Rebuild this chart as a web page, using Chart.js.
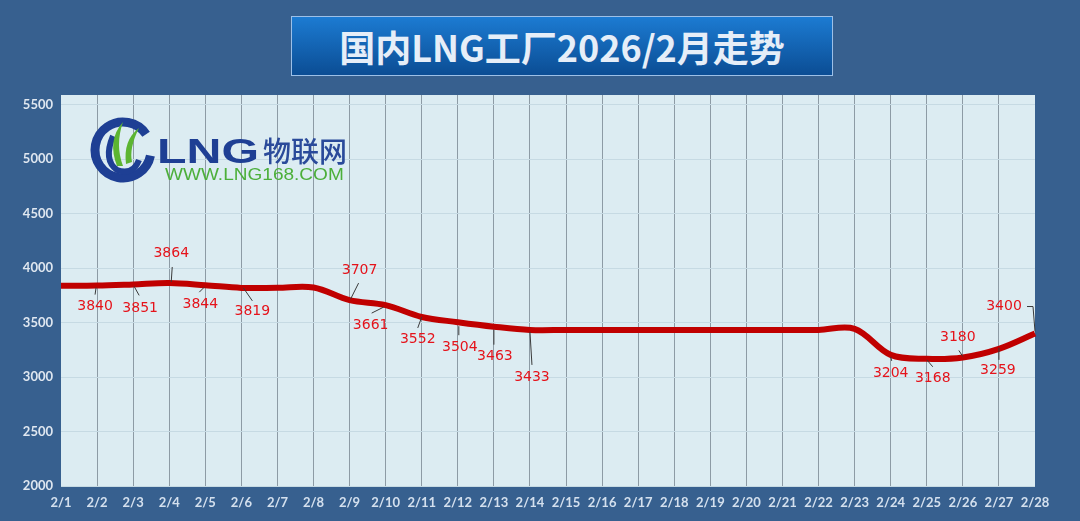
<!DOCTYPE html>
<html>
<head>
<meta charset="utf-8">
<script src="https://cdn.jsdelivr.net/npm/chart.js@4"></script>
<style>
html, body { margin: 0; padding: 0; background: #37608f; }
#wrap { position: relative; width: 1080px; height: 521px; }
canvas { position: absolute; left: 0; top: 0; }
#title {
  position: absolute; left: 291px; top: 16px; width: 540px; height: 58px;
  border: 1px solid #9cc0e8;
  background: linear-gradient(#1c7bd2, #0b4d94);
  color: #e6eef8; font: bold 36px "Noto Sans CJK SC", sans-serif;
  text-align: center; line-height: 58px;
}
</style>
</head>
<body>
<div id="wrap">
  <canvas id="lngChart" width="1080" height="521"></canvas>
  <div id="title">国内LNG工厂2026/2月走势</div>
</div>
<script>
const days = ["2/1","2/2","2/3","2/4","2/5","2/6","2/7","2/8","2/9","2/10","2/11","2/12","2/13","2/14",
  "2/15","2/16","2/17","2/18","2/19","2/20","2/21","2/22","2/23","2/24","2/25","2/26","2/27","2/28"];
const prices = [3838, 3840, 3851, 3864, 3844, 3819, 3820, 3823, 3707, 3661, 3552, 3504, 3463, 3433,
  3433, 3433, 3433, 3433, 3433, 3433, 3433, 3433, 3443, 3204, 3168, 3180, 3259, 3400];
const yTicks = [2000, 2500, 3000, 3500, 4000, 4500, 5000, 5500];

// which points get a value label, and where (text offset + leader line from the point)
const labelSpots = [
  { i: 1,  dx: -2,  dy: 21,  lead: [-1, 2, -2, 9] },
  { i: 2,  dx: 7,   dy: 24,  lead: [1, 2, 6, 11] },
  { i: 3,  dx: 2,   dy: -30, lead: [2, -1, 3, -16] },
  { i: 4,  dx: -5,  dy: 19,  lead: [-1, 2, -6, 7] },
  { i: 5,  dx: 11,  dy: 23,  lead: [2, 0, 11, 13] },
  { i: 8,  dx: 10,  dy: -30, lead: [1, -1, 9, -17] },
  { i: 9,  dx: -15, dy: 20,  lead: [-2, 2, -14, 8] },
  { i: 10, dx: -4,  dy: 22,  lead: [0, 0, -4, 11] },
  { i: 11, dx: 2,   dy: 25,  lead: [1, 4, 1, 13] },
  { i: 12, dx: 1,   dy: 30,  lead: [0, 3, 0, 18] },
  { i: 13, dx: 2,   dy: 47,  lead: [0, 2, 2, 35] },
  { i: 23, dx: 0,   dy: 18,  lead: [0, 2, 1, 6] },
  { i: 24, dx: 6,   dy: 20,  lead: [0, 1, 6, 8] },
  { i: 25, dx: -5,  dy: -20, lead: [0, -1, -4, -7] },
  { i: 26, dx: -1,  dy: 21,  lead: [0, -1, 0, 11] },
  { i: 27, dx: -31, dy: -27, lead: [0, -2, -2, -27, -8, -27] }
];

const plotBg = {
  id: "plotBg",
  beforeDraw(chart) {
    const { ctx, chartArea: a } = chart;
    ctx.save();
    ctx.fillStyle = "#dcecf2";
    ctx.fillRect(a.left, a.top, a.right - a.left, a.bottom - a.top);
    ctx.restore();
  }
};

// watermark logo in the upper left of the plot
const logo = {
  id: "logo",
  beforeDatasetsDraw(chart) {
    const ctx = chart.ctx;
    const cx = 123, cy = 150, r = 28;
    ctx.save();
    ctx.strokeStyle = "#1e3f94";
    ctx.lineWidth = 9;
    ctx.beginPath();
    ctx.arc(cx, cy, r, -0.6, 0.2, true);
    ctx.stroke();
    // inner hook
    ctx.lineWidth = 6;
    ctx.beginPath();
    ctx.moveTo(113, 136);
    ctx.quadraticCurveTo(103, 160, 117, 170);
    ctx.quadraticCurveTo(133, 176, 139, 160);
    ctx.stroke();
    // green leaves
    ctx.fillStyle = "#5cb531";
    ctx.beginPath();
    ctx.moveTo(117, 166);
    ctx.quadraticCurveTo(107, 140, 123, 122);
    ctx.quadraticCurveTo(115, 145, 123, 166);
    ctx.closePath();
    ctx.fill();
    ctx.beginPath();
    ctx.moveTo(126, 164);
    ctx.quadraticCurveTo(123, 140, 139, 128);
    ctx.quadraticCurveTo(129, 148, 132, 162);
    ctx.closePath();
    ctx.fill();
    // brand text
    ctx.fillStyle = "#1e3f94";
    ctx.textBaseline = "alphabetic";
    ctx.save();
    ctx.translate(157, 163);
    ctx.scale(1.38, 1);
    ctx.font = "900 35px 'Liberation Sans', sans-serif";
    ctx.fillText("LNG", 0, 0);
    ctx.restore();
    ctx.fillStyle = "#2a4a9a";
    ctx.font = "500 28px 'Noto Sans CJK SC', sans-serif";
    ctx.fillText("物联网", 263, 162);
    ctx.fillStyle = "#4caf3a";
    ctx.save();
    ctx.translate(165, 180);
    ctx.scale(1.12, 1);
    ctx.font = "17px 'Liberation Sans', sans-serif";
    ctx.fillText("WWW.LNG168.COM", 0, 0);
    ctx.restore();
    ctx.restore();
  }
};

const valueLabels = {
  id: "valueLabels",
  afterDatasetsDraw(chart) {
    const ctx = chart.ctx;
    const pts = chart.getDatasetMeta(0).data;
    ctx.save();
    ctx.font = "14px 'DejaVu Sans', sans-serif";
    ctx.textAlign = "center";
    ctx.textBaseline = "middle";
    labelSpots.forEach(s => {
      const p = pts[s.i];
      const L = s.lead;
      ctx.strokeStyle = "#3a3a3a";
      ctx.lineWidth = 1;
      ctx.beginPath();
      ctx.moveTo(p.x + L[0], p.y + L[1]);
      for (let k = 2; k < L.length; k += 2) ctx.lineTo(p.x + L[k], p.y + L[k + 1]);
      ctx.stroke();
      ctx.fillStyle = "#e5131b";
      ctx.fillText(String(prices[s.i]), p.x + s.dx, p.y + s.dy);
    });
    ctx.restore();
  }
};

new Chart("lngChart", {
  type: "line",
  data: {
    labels: days,
    datasets: [{
      data: prices,
      borderColor: "#c00000",
      borderWidth: 6,
      pointRadius: 0,
      tension: 0.35,
      fill: false
    }]
  },
  options: {
    responsive: false,
    animation: false,
    layout: { padding: { top: 95, right: 45, left: 0, bottom: 0 } },
    plugins: {
      legend: { display: false },
      tooltip: { enabled: false }
    },
    scales: {
      x: {
        border: { display: false },
        grid: {
          color: c => (c.index === 0 || c.index === days.length - 1) ? "rgba(0,0,0,0)" : "#8d9ba5",
          lineWidth: 1,
          drawTicks: false
        },
        ticks: {
          color: "#d4e0ee",
          font: { family: "Lato", weight: "bold", size: 13 },
          padding: 9,
          maxRotation: 0,
          autoSkip: false
        },
        afterFit(scale) { scale.height = 35; }
      },
      y: {
        min: 2000,
        max: 5590,
        border: { display: false },
        grid: { color: "#c6dae3", lineWidth: 1, drawTicks: false },
        ticks: {
          color: "#dfe7f0",
          font: { family: "Lato", weight: "bold", size: 13 },
          padding: 8,
          callback: v => String(v)
        },
        afterBuildTicks(scale) {
          scale.ticks = yTicks.map(v => ({ value: v }));
        },
        afterFit(scale) { scale.width = 61; }
      }
    }
  },
  plugins: [plotBg, logo, valueLabels]
});
</script>
</body>
</html>
